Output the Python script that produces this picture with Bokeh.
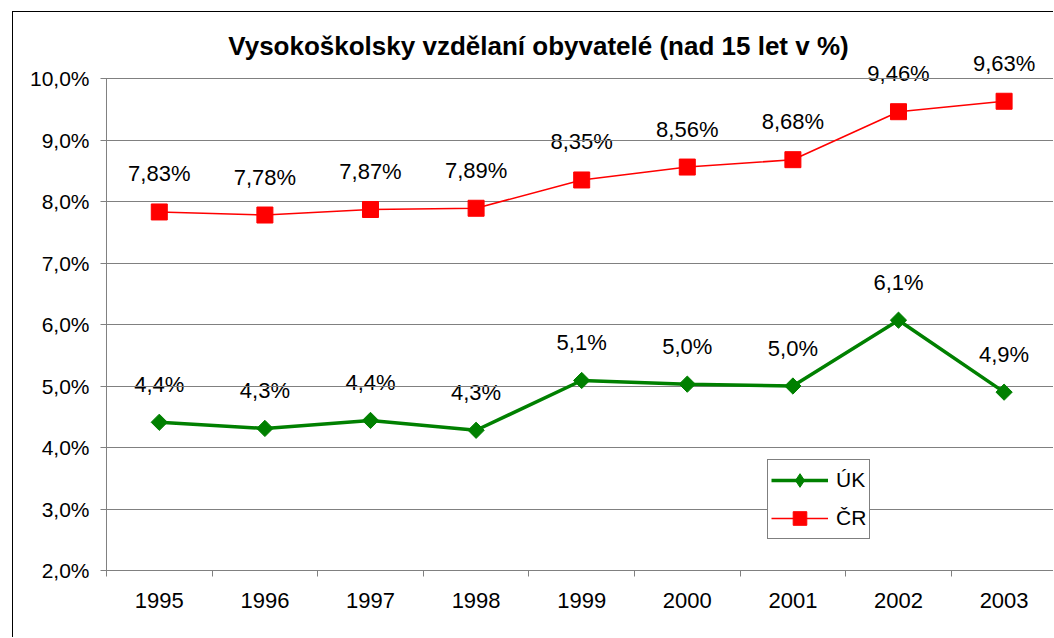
from bokeh.plotting import figure
from bokeh.models import (Range1d, FixedTicker, Legend, LegendItem, Label,
                          ColumnDataSource, CustomJSTickFormatter)
from bokeh.embed import file_html
from bokeh.resources import INLINE
from bokeh.core.properties import value
import math

years = ["1995", "1996", "1997", "1998", "1999", "2000", "2001", "2002", "2003"]
uk_values = [4.41, 4.31, 4.44, 4.28, 5.09, 5.03, 5.00, 6.07, 4.90]
cr_values = [7.83, 7.78, 7.87, 7.89, 8.35, 8.56, 8.68, 9.46, 9.63]
uk_labels = ["4,4%", "4,3%", "4,4%", "4,3%", "5,1%", "5,0%", "5,0%", "6,1%", "4,9%"]
cr_labels = ["7,83%", "7,78%", "7,87%", "7,89%", "8,35%", "8,56%", "8,68%", "9,46%", "9,63%"]
y_ticks = [2, 3, 4, 5, 6, 7, 8, 9, 10]
y_min, y_max = 2, 10
title_text = "Vysokoškolsky vzdělaní obyvatelé (nad 15 let v %)"

FONT = "Liberation Sans"
xs = [i + 0.5 for i in range(len(years))]

# layout constants (pixels)
PX_PER_CAT = 105.6
PX_PER_PCT = 61.5
X0 = -0.0189                  # range start -> 2 px left of first boundary
Y_TOP = y_min + 550 / PX_PER_PCT

p = figure(width=1041, height=626, output_backend="svg", toolbar_location=None,
           x_range=Range1d(X0, X0 + 950 / PX_PER_CAT), y_range=Range1d(y_min, Y_TOP),
           min_border_left=91, min_border_top=8, min_border_bottom=68,
           min_border_right=0)
p.styles = {"margin-left": "12px", "margin-top": "11px",
            "border-left": "1px solid black", "border-top": "1px solid black"}
p.outline_line_color = None
p.background_fill_color = "white"
p.border_fill_color = "white"

# axes
p.xaxis.ticker = FixedTicker(ticks=xs, minor_ticks=list(range(len(years) + 1)))
p.xaxis.major_label_overrides = {x: y for x, y in zip(xs, years)}
p.xaxis.major_tick_out = 0
p.xaxis.major_tick_in = 0
p.xaxis.minor_tick_out = 6
p.xaxis.minor_tick_in = 0
p.xaxis.minor_tick_line_color = "#808080"
p.xaxis.axis_line_color = "#808080"
p.xaxis.major_label_text_font = FONT
p.xaxis.major_label_text_font_size = "22px"
p.xaxis.major_label_text_color = "black"
p.xaxis.major_label_standoff = 16

p.yaxis.ticker = FixedTicker(ticks=y_ticks, minor_ticks=[])
p.yaxis.formatter = CustomJSTickFormatter(code="return tick.toFixed(1).replace('.', ',') + '%';")
p.yaxis.major_tick_out = 4
p.yaxis.major_tick_in = 2
p.yaxis.major_tick_line_color = "#808080"
p.yaxis.axis_line_color = None
p.yaxis.major_label_text_font = FONT
p.yaxis.major_label_text_font_size = "21px"
p.yaxis.major_label_text_color = "black"
p.yaxis.major_label_standoff = 11

p.xgrid.visible = False
p.ygrid.ticker = FixedTicker(ticks=y_ticks)
p.ygrid.grid_line_color = "#808080"
p.ygrid.grid_line_width = 1

# left axis line only from 2 % to 10 %
p.segment(x0=[0], y0=[y_min], x1=[0], y1=[y_max], line_color="#808080", line_width=1)

src = ColumnDataSource(dict(x=xs, uk=uk_values, cr=cr_values, ukl=uk_labels, crl=cr_labels))

p.text(x="x", y="cr", text="crl", source=src, y_offset=-38, text_align="center",
       text_baseline="middle", text_font=value(FONT), text_font_size="22px",
       text_color="black", level="underlay")
p.text(x="x", y="uk", text="ukl", source=src, y_offset=-38, text_align="center",
       text_baseline="middle", text_font=value(FONT), text_font_size="22px",
       text_color="black", level="underlay")

uk_line = p.line("x", "uk", source=src, line_color="#008000", line_width=3.5)
# diamond used for the legend symbol; fully hidden under the plotted markers
uk_leg = p.scatter("x", "uk", source=src, marker="diamond", size=13,
                   fill_color="#008000", line_color="#008000")
p.scatter("x", "uk", source=src, marker="square", angle=math.pi / 4,
          size=11.5, fill_color="#008000", line_color="#008000")
cr_line = p.line("x", "cr", source=src, line_color="#FF0000", line_width=1.6)
cr_pts = p.scatter("x", "cr", source=src, marker="square", size=16,
                   fill_color="#FF0000", line_color="#FF0000")

legend = Legend(items=[LegendItem(label="ÚK", renderers=[uk_line, uk_leg]),
                       LegendItem(label="ČR", renderers=[cr_line, cr_pts])],
                location=(663, 31), orientation="vertical",
                glyph_width=57, glyph_height=34, label_standoff=8,
                padding=3, spacing=4, margin=0,
                label_text_font=FONT, label_text_font_size="21px",
                label_text_color="black",
                border_line_color="black", border_line_width=1,
                background_fill_color="white", background_fill_alpha=1)
p.add_layout(legend, "center")

# chart title, centred at page x=538, y=45
title = Label(x=X0 + (538 - 104) / PX_PER_CAT, y=y_min + (570 - 45) / PX_PER_PCT,
              text=title_text, text_font=FONT, text_font_size="26px",
              text_font_style="bold", text_align="center", text_baseline="middle",
              text_color="black")
p.add_layout(title)

open("out.html", "w").write(file_html(p, INLINE))
